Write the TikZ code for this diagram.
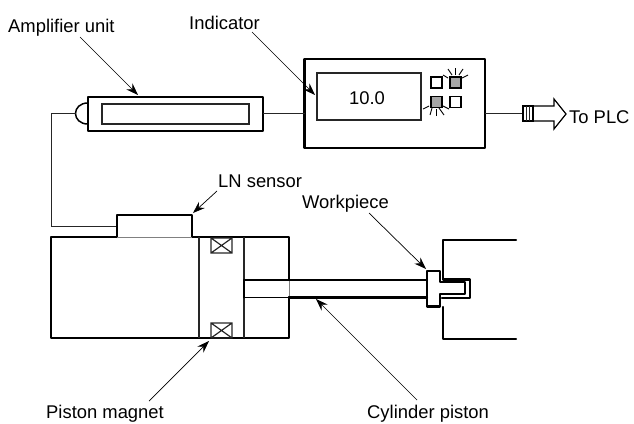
\documentclass[tikz,border=0pt]{standalone}
\usepackage{fontspec}
\setmainfont{Liberation Sans}
\usetikzlibrary{arrows.meta}
\tikzset{
  x=1pt,y=-1pt,
  thick line/.style={line width=2.2pt,line cap=round,line join=round},
  mid line/.style={line width=1.2pt,draw=black!85},
  thin line/.style={line width=0.9pt,draw=black!85},
  leader/.style={line width=0.7pt,-{Stealth[length=12pt,width=8.5pt]}},
  lab/.style={inner sep=0pt,anchor=base west,font=\fontsize{18.4}{20}\selectfont},
  lamp/.style={draw=black,line width=1.2pt,minimum size=11pt,inner sep=0pt,outer sep=0pt},
  on/.style={fill=black!35},
  ray/.style={line width=0.9pt},
}
\begin{document}
\begin{tikzpicture}
\useasboundingbox (0,0) rectangle (634,423);
% labels
\node[lab] (lamp1) at (8,32) {Amplifier unit};
\node[lab] (lind) at (189,29) {Indicator};
\node[lab] (llns) at (218,187) {LN sensor};
\node[lab] (lwp) at (302,208) {Workpiece};
\node[lab] (lpm) at (46,418.5) {Piston magnet};
\node[lab] (lcp) at (367,418.5) {Cylinder piston};
\node[lab] (lplc) at (569,123) {To PLC};
% amplifier
\node[draw,thick line,minimum width=175pt,minimum height=34pt,inner sep=0pt,outer sep=0pt] (amp) at (175.5,114) {};
\node[draw,mid line,minimum width=147pt,minimum height=20pt,inner sep=0pt,outer sep=0pt] (ampin) at (175.5,114) {};
\draw[line width=1.5pt] (88,103) .. controls (80,103) and (75.5,108) .. (75.5,113.5) .. controls (75.5,119) and (80,124) .. (88,124);
% indicator
\node[draw,thick line,minimum width=180.5pt,minimum height=89pt,inner sep=0pt,outer sep=0pt] (ind) at (394.75,103.5) {};
\node[draw,mid line,minimum width=104pt,minimum height=47pt,inner sep=0pt,outer sep=0pt] (disp) at (369,96.5) {};
\node[inner sep=0pt,font=\fontsize{18.4}{20}\selectfont] (val) at (367,98) {10.0};
\node[lamp] (l1) at (436.5,82.5) {};
\node[lamp,on] (l2) at (455.5,82.5) {};
\node[lamp,on] (l3) at (436.5,102) {};
\node[lamp] (l4) at (455.5,102) {};
\foreach \a/\b/\c/\d in {443/75/448/78,448/69/452/75,455/68/455/75,463/69/459/75,468/75/462/78}{\draw[ray] (\a,\b) -- (\c,\d);}
\foreach \a/\b/\c/\d in {423/109/429/106,430/115/432/108,436/116/436/109,444/115/439/108,449/109/443/106}{\draw[ray] (\a,\b) -- (\c,\d);}
% wires
\coordinate (w1) at (75.5,113.5);
\coordinate (w2) at (51,113.5);
\coordinate (w3) at (51,226);
\coordinate (w4) at (117,226);
\draw[thin line] (w1) -- (w2) -- (w3) -- (w4);
\draw[thin line] (amp.east |- w1) -- (ind.west |- w1);
\coordinate (plug) at (523,113.5);
\draw[thin line] (ind.east |- plug) -- (plug);
% plug
\draw[line width=1.2pt] (523,106) rectangle (533,121);
\draw[thin line] (526,106) -- (526,121) (529.5,106) -- (529.5,121);
\draw[line width=1.2pt,line join=miter] (533,106) -- (554,106) -- (554,99) -- (566,114) -- (554,129) -- (554,121) -- (533,121);
% cylinder
\draw[thick line] (117,237) -- (51,237) -- (51,338) -- (289,338) -- (289,297);
\draw[thick line] (289,280) -- (289,237) -- (192,237);
\draw[thick line] (117,237) -- (117,215) -- (192,215) -- (192,237);
\draw[thin line,draw=black!50] (117,237) -- (192,237);
\draw[thin line,draw=black!50] (289,280) -- (289,297);
\draw[mid line] (199,237) -- (199,338) (244,237) -- (244,338);
\foreach \y/\z in {238/253,323/338}{
  \draw[mid line] (211,\y) rectangle (232,\z) (211,\y) -- (232,\z) (211,\z) -- (232,\y);
}
% rod
\draw[thick line] (427,280) -- (289,280) (289,297.5) -- (427,297.5);
\draw[line width=1.5pt] (289,280) -- (244,280) (244,297.5) -- (289,297.5);
\draw[thick line] (244,280) -- (244,297.5);
% workpiece
\draw[thick line] (427,271) -- (440,271) -- (440,282) -- (465,282) -- (465,294) -- (440,294) -- (440,306.5) -- (427,306.5) -- cycle;
\draw[thick line] (516,240) -- (443,240) -- (443,279.5) -- (470,279.5) -- (470,298) -- (442,298);
\draw[thick line] (443,307) -- (443,339) -- (516,339);
% leaders
\coordinate (s1) at (80,37);   \coordinate (t1) at (138,95);
\coordinate (s2) at (252,32);  \coordinate (t2) at (315,95);
\coordinate (s3) at (217,191); \coordinate (t3) at (193,213);
\coordinate (s4) at (369,213); \coordinate (t4) at (426,269);
\coordinate (s5) at (149,401); \coordinate (t5) at (209,341);
\coordinate (s6) at (417,400); \coordinate (t6) at (316,299);
\draw[leader] (s1) -- (t1);
\draw[leader] (s2) -- (t2);
\draw[leader] (s3) -- (t3);
\draw[leader] (s4) -- (t4);
\draw[leader] (s5) -- (t5);
\draw[leader] (s6) -- (t6);
\end{tikzpicture}
\end{document}
